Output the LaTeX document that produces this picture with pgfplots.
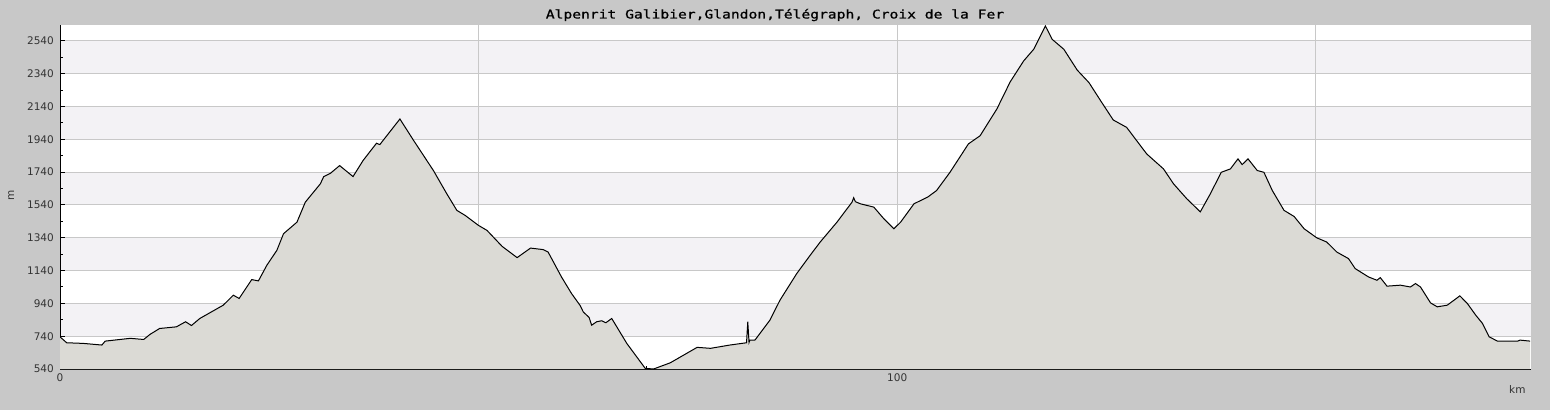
\documentclass[border=0pt]{standalone}
\usepackage{fontspec}
\setmainfont{DejaVu Sans}
\newfontfamily\titlefont[FakeStretch=1.22, FakeBold=1]{DejaVu Sans Mono}
\usepackage{pgfplots}
\pgfplotsset{compat=1.18}
\usepackage{pgfplotstable}

\definecolor{bgcol}{HTML}{C8C8C8}
\definecolor{lav}{HTML}{F3F2F5}
\definecolor{terrain}{HTML}{DBDAD5}
\definecolor{gridcol}{HTML}{C8C8C8}
\definecolor{txt}{HTML}{333333}

% profile: distance (km) and elevation (m)
\pgfplotstableread{
km ele
0 736
0.8 700
2.8 696
5 686
5.4 710
8.4 727
10 720
10.75 751
11.9 787
13.9 797
15 828
15.7 805
16.7 848
19.5 929
20.7 990
21.4 970
22.9 1085
23.7 1077
24.7 1172
25.9 1263
26.7 1365
28.3 1435
29.3 1557
31.1 1669
31.5 1713
32.3 1733
33.4 1780
35 1713
36.2 1811
37.8 1916
38.2 1908
40.6 2064
42.2 1936
44.6 1750
46.2 1608
47.4 1507
48.4 1476
50 1415
51 1385
52.8 1288
54.6 1219
56.2 1277
57.7 1268
58.3 1253
59.9 1101
61.1 1000
62.1 929
62.5 888
63.2 854
63.5 807
64.1 828
64.7 834
65.2 822
65.9 848
67.7 696
69.9 544
70.9 540
72.9 578
76.1 672
77.7 666
80 686
82 700
82.15 828
82.3 702
82.4 716
83 716
84.8 838
86 960
88 1122
89.6 1233
90.8 1314
92.8 1435
94.6 1557
94.8 1584
95 1560
95.6 1547
97.2 1527
98.4 1456
99.6 1395
100.4 1435
102 1547
103.7 1590
104.7 1628
106.3 1739
108.5 1912
109.9 1962
111.9 2125
113.5 2291
115.1 2418
116.3 2489
117.7 2631
118.5 2550
119.9 2489
121.5 2362
122.9 2286
124.3 2175
125.8 2058
127.4 2013
129.8 1851
131.8 1760
133 1669
134.6 1577
136.2 1498
137.4 1608
138.7 1739
139.8 1760
140.7 1821
141.2 1786
141.9 1821
143 1750
143.8 1739
144.8 1628
146.2 1507
147.4 1470
148.6 1395
150.1 1340
151.3 1314
152.5 1253
153.9 1213
154.7 1152
156.3 1101
157.3 1081
157.7 1097
158.5 1045
160.1 1051
161.3 1040
161.9 1061
162.5 1040
163.7 943
164.5 919
165.7 929
167.2 986
168.1 939
169.1 868
169.9 818
170.7 736
171.7 710
174.1 710
174.4 716
175.6 710
}\profile

\pgfplotsset{
  layers/profile/.define layer set={axis background,axis grid,main,axis ticks,axis lines,axis tick labels,axis descriptions,axis foreground}{},
}

\pagecolor{bgcol}

\begin{document}
\begin{tikzpicture}
\path (0,0) rectangle (1550pt,410pt);
\begin{axis}[
  set layers=profile,
  at={(60pt,41pt)}, anchor=south west,
  scale only axis, width=1471pt, height=344pt,
  xmin=0, xmax=175.7, ymin=540, ymax=2637,
  axis x line*=bottom, axis y line*=left,
  axis line style={black, line width=1pt},
  xtick={0,50,100,150}, xticklabels={0,,100,},
  minor xtick={10,20,30,40,60,70,80,90,110,120,130,140,160,170},
  ytick={540,740,...,2540},
  minor ytick={640,840,...,2440},
  tick align=inside,
  major tick length=5pt, minor tick length=3pt,
  tick style={black, line width=1pt},
  xmajorgrids, ymajorgrids,
  major grid style={gridcol, line width=1pt},
  ticklabel style={font=\fontsize{10.5}{12}\selectfont, text=txt},
  /pgf/number format/assume math mode=true,
  /pgf/number format/1000 sep={},
  yticklabel style={inner sep=0pt, anchor=east, xshift=-6pt},
  xticklabel style={inner sep=0pt, anchor=north, yshift=-5pt},
]
\begin{pgfonlayer}{axis background}
\fill[white] (axis cs:0,540) rectangle (axis cs:175.7,2637);
\fill[lav] (axis cs:0,740) rectangle (axis cs:175.7,940);
\fill[lav] (axis cs:0,1140) rectangle (axis cs:175.7,1340);
\fill[lav] (axis cs:0,1540) rectangle (axis cs:175.7,1740);
\fill[lav] (axis cs:0,1940) rectangle (axis cs:175.7,2140);
\fill[lav] (axis cs:0,2340) rectangle (axis cs:175.7,2540);
\end{pgfonlayer}
\addplot[draw=none, fill=terrain] table[x=km, y=ele] {\profile} \closedcycle;
\addplot[black, line width=1pt] table[x=km, y=ele] {\profile};
\end{axis}
\node[font=\titlefont\fontsize{12}{14}\selectfont, anchor=base] at (775pt,391.5pt)
  {Alpenrit Galibier,Glandon,Télégraph, Croix de la Fer};
\node[font=\fontsize{10.5}{12}\selectfont, text=txt, anchor=base, rotate=90] at (14pt,215pt) {m};
\node[font=\fontsize{10.5}{12}\selectfont, text=txt, anchor=base east] at (1529pt,17pt) {km};
\pgfresetboundingbox
\useasboundingbox (0,0) rectangle (1550pt,410pt);
\end{tikzpicture}
\end{document}
